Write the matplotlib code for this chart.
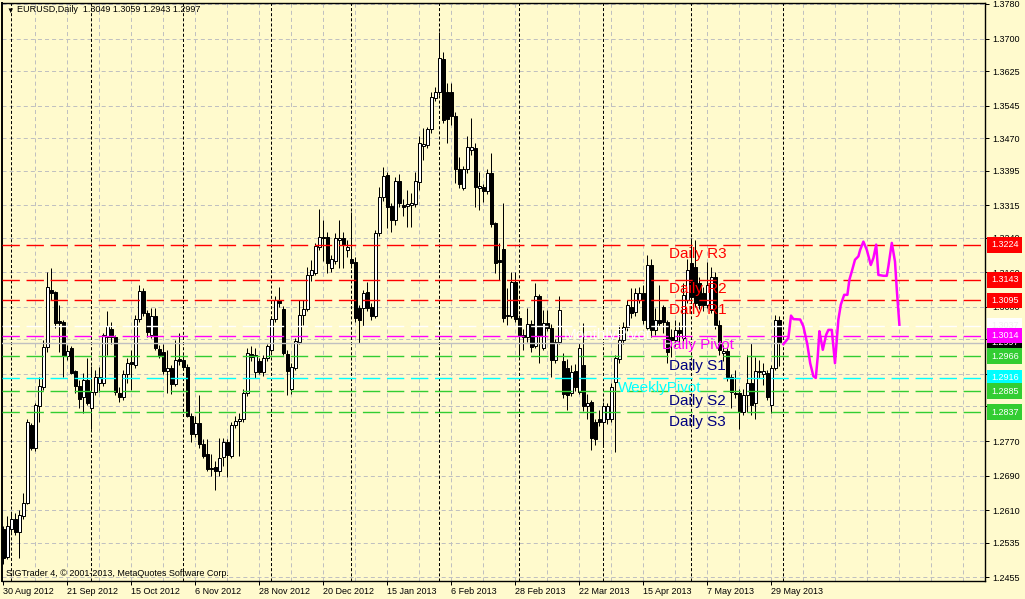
import matplotlib
matplotlib.use("Agg")
import matplotlib.pyplot as plt
from matplotlib.transforms import blended_transform_factory

# ---------------- daily bars, 30 Aug 2012 .. 31 May 2013 ----------------
opens = [
    1.2566, 1.2503, 1.2568, 1.2591, 1.2561, 1.2598, 1.2628, 1.2808, 1.2755, 1.2850,
    1.2896, 1.2988, 1.3120, 1.3115, 1.3048, 1.3046, 1.2967, 1.2986, 1.2931, 1.2898,
    1.2871, 1.2912, 1.2847, 1.2884, 1.2905, 1.2905, 1.3011, 1.3030, 1.3011, 1.2882,
    1.2873, 1.2926, 1.2953, 1.2946, 1.3053, 1.3117, 1.3067, 1.3016, 1.3058, 1.2984,
    1.2975, 1.2931, 1.2940, 1.2903, 1.2960, 1.2958, 1.2942, 1.2829, 1.2787, 1.2813,
    1.2764, 1.2741, 1.2709, 1.2711, 1.2700, 1.2734, 1.2769, 1.2736, 1.2808, 1.2817,
    1.2822, 1.2882, 1.2972, 1.2930, 1.2955, 1.2930, 1.2963, 1.2981, 1.3053, 1.3095,
    1.3076, 1.2972, 1.2891, 1.2940, 1.3000, 1.3062, 1.3076, 1.3154, 1.3159, 1.3219,
    1.3242, 1.3242, 1.3170, 1.3187, 1.3235, 1.3240, 1.3212, 1.3191, 1.3184, 1.3078,
    1.3078, 1.3115, 1.3081, 1.3060, 1.3251, 1.3334, 1.3385, 1.3314, 1.3281, 1.3371,
    1.3316, 1.3314, 1.3316, 1.3318, 1.3369, 1.3452, 1.3455, 1.3491, 1.3563, 1.3577,
    1.3653, 1.3577, 1.3577, 1.3521, 1.3399, 1.3355, 1.3399, 1.3443, 1.3447, 1.3355,
    1.3357, 1.3348, 1.3390, 1.3274, 1.3189, 1.3214, 1.3058, 1.3060, 1.3138, 1.3055,
    1.3016, 1.3011, 1.3041, 1.2990, 1.3106, 1.2986, 1.3044, 1.3032, 1.2958, 1.2999,
    1.2954, 1.2940, 1.2882, 1.2933, 1.2884, 1.2947, 1.2850, 1.2861, 1.2815, 1.2822,
    1.2815, 1.2820, 1.2820, 1.2907, 1.2960, 1.3004, 1.3034, 1.3081, 1.3069, 1.3097,
    1.3113, 1.3032, 1.3177, 1.3027, 1.3051, 1.3081, 1.3046, 1.3011, 1.3004, 1.3027,
    1.3009, 1.3097, 1.3182, 1.3173, 1.3136, 1.3113, 1.3085, 1.3074, 1.3150, 1.3039,
    1.2974, 1.2978, 1.2919, 1.2882, 1.2882, 1.2838, 1.2877, 1.2905, 1.2859, 1.2929,
    1.2926, 1.2928, 1.2854, 1.2940, 1.3049,
]
highs = [
    1.2575, 1.2596, 1.2607, 1.2605, 1.2610, 1.2649, 1.2820, 1.2813, 1.2857, 1.2919,
    1.3004, 1.3160, 1.3170, 1.3117, 1.3085, 1.3051, 1.2993, 1.2990, 1.2935, 1.2912,
    1.2928, 1.2963, 1.2944, 1.2935, 1.2942, 1.3020, 1.3071, 1.3045, 1.3015, 1.2895,
    1.2935, 1.2962, 1.2981, 1.3062, 1.3130, 1.3124, 1.3072, 1.3078, 1.3078, 1.2992,
    1.2995, 1.2981, 1.2945, 1.3004, 1.3020, 1.2970, 1.2948, 1.2835, 1.2827, 1.2877,
    1.2775, 1.2775, 1.2740, 1.2725, 1.2778, 1.2778, 1.2775, 1.2815, 1.2828, 1.2835,
    1.2890, 1.2986, 1.2990, 1.2985, 1.2962, 1.2970, 1.2995, 1.3060, 1.3105, 1.3127,
    1.3082, 1.2980, 1.2950, 1.3008, 1.3097, 1.3097, 1.3173, 1.3189, 1.3228, 1.3307,
    1.3281, 1.3254, 1.3200, 1.3251, 1.3281, 1.3254, 1.3235, 1.3300, 1.3195, 1.3085,
    1.3120, 1.3138, 1.3090, 1.3258, 1.3357, 1.3404, 1.3392, 1.3320, 1.3380, 1.3388,
    1.3330, 1.3351, 1.3344, 1.3392, 1.3475, 1.3494, 1.3496, 1.3577, 1.3588, 1.3715,
    1.3670, 1.3598, 1.3598, 1.3530, 1.3427, 1.3405, 1.3475, 1.3517, 1.3459, 1.3392,
    1.3365, 1.3398, 1.3436, 1.3277, 1.3228, 1.3320, 1.3124, 1.3161, 1.3161, 1.3062,
    1.3030, 1.3078, 1.3050, 1.3136, 1.3110, 1.3074, 1.3074, 1.3040, 1.3005, 1.3106,
    1.2974, 1.2960, 1.2945, 1.2948, 1.2997, 1.3044, 1.2880, 1.2865, 1.2820, 1.2843,
    1.2860, 1.2858, 1.2905, 1.2970, 1.3039, 1.3045, 1.3097, 1.3124, 1.3124, 1.3125,
    1.3130, 1.3200, 1.3190, 1.3078, 1.3131, 1.3085, 1.3050, 1.3030, 1.3051, 1.3045,
    1.3136, 1.3191, 1.3240, 1.3235, 1.3150, 1.3125, 1.3184, 1.3173, 1.3160, 1.3050,
    1.2993, 1.2985, 1.2925, 1.2935, 1.2890, 1.2890, 1.2970, 1.2997, 1.2965, 1.2958,
    1.2951, 1.2935, 1.2945, 1.3062, 1.3059,
]
lows = [
    1.2485, 1.2497, 1.2559, 1.2552, 1.2501, 1.2589, 1.2624, 1.2750, 1.2748, 1.2815,
    1.2889, 1.2977, 1.3097, 1.3032, 1.2977, 1.2919, 1.2958, 1.2924, 1.2882, 1.2847,
    1.2836, 1.2854, 1.2797, 1.2877, 1.2884, 1.2898, 1.2970, 1.2995, 1.2877, 1.2860,
    1.2865, 1.2905, 1.2889, 1.2940, 1.3045, 1.3060, 1.3010, 1.3008, 1.2980, 1.2962,
    1.2925, 1.2882, 1.2880, 1.2898, 1.2945, 1.2935, 1.2825, 1.2767, 1.2780, 1.2755,
    1.2730, 1.2700, 1.2690, 1.2658, 1.2690, 1.2713, 1.2686, 1.2730, 1.2800, 1.2736,
    1.2815, 1.2875, 1.2955, 1.2915, 1.2925, 1.2920, 1.2955, 1.2975, 1.3045, 1.3080,
    1.2970, 1.2877, 1.2880, 1.2935, 1.2995, 1.3039, 1.3070, 1.3140, 1.3154, 1.3212,
    1.3187, 1.3159, 1.3160, 1.3180, 1.3170, 1.3170, 1.3195, 1.3170, 1.3046, 1.2997,
    1.3037, 1.3070, 1.3050, 1.3055, 1.3245, 1.3325, 1.3263, 1.3254, 1.3270, 1.3310,
    1.3290, 1.3265, 1.3265, 1.3312, 1.3351, 1.3420, 1.3448, 1.3482, 1.3555, 1.3570,
    1.3505, 1.3459, 1.3500, 1.3367, 1.3355, 1.3350, 1.3390, 1.3430, 1.3311, 1.3304,
    1.3323, 1.3340, 1.3265, 1.3159, 1.3143, 1.3046, 1.3039, 1.3055, 1.3045, 1.2965,
    1.2981, 1.3000, 1.2977, 1.2985, 1.2951, 1.2980, 1.3025, 1.2919, 1.2950, 1.2995,
    1.2870, 1.2843, 1.2875, 1.2885, 1.2880, 1.2840, 1.2820, 1.2750, 1.2760, 1.2805,
    1.2762, 1.2810, 1.2815, 1.2744, 1.2950, 1.2995, 1.3025, 1.3055, 1.3060, 1.3090,
    1.3040, 1.3025, 1.3010, 1.3015, 1.3035, 1.3020, 1.2950, 1.2965, 1.2990, 1.2995,
    1.3000, 1.3090, 1.3095, 1.3080, 1.3075, 1.3070, 1.3078, 1.3065, 1.3030, 1.2970,
    1.2955, 1.2910, 1.2847, 1.2870, 1.2797, 1.2830, 1.2838, 1.2831, 1.2820, 1.2915,
    1.2900, 1.2865, 1.2836, 1.2935, 1.2943,
]
closes = [
    1.2501, 1.2575, 1.2591, 1.2561, 1.2600, 1.2628, 1.2815, 1.2755, 1.2854, 1.2898,
    1.2988, 1.3127, 1.3113, 1.3044, 1.3044, 1.2967, 1.2979, 1.2928, 1.2898, 1.2868,
    1.2912, 1.2859, 1.2884, 1.2919, 1.2917, 1.3016, 1.3037, 1.3011, 1.2884, 1.2873,
    1.2926, 1.2951, 1.2949, 1.3053, 1.3117, 1.3067, 1.3021, 1.3058, 1.2986, 1.2970,
    1.2931, 1.2940, 1.2903, 1.2958, 1.2956, 1.2942, 1.2829, 1.2787, 1.2813, 1.2764,
    1.2736, 1.2706, 1.2706, 1.2700, 1.2732, 1.2769, 1.2738, 1.2808, 1.2817, 1.2822,
    1.2882, 1.2974, 1.2965, 1.2968, 1.2930, 1.2963, 1.2990, 1.3053, 1.3097, 1.3090,
    1.2974, 1.2933, 1.2942, 1.3002, 1.3062, 1.3076, 1.3154, 1.3166, 1.3221, 1.3242,
    1.3240, 1.3182, 1.3191, 1.3240, 1.3240, 1.3224, 1.3219, 1.3182, 1.3055, 1.3051,
    1.3113, 1.3078, 1.3060, 1.3251, 1.3334, 1.3383, 1.3311, 1.3281, 1.3371, 1.3321,
    1.3311, 1.3318, 1.3321, 1.3371, 1.3459, 1.3457, 1.3491, 1.3565, 1.3577, 1.3655,
    1.3512, 1.3515, 1.3521, 1.3399, 1.3364, 1.3399, 1.3450, 1.3450, 1.3357, 1.3360,
    1.3348, 1.3390, 1.3272, 1.3182, 1.3184, 1.3055, 1.3062, 1.3138, 1.3053, 1.3016,
    1.3011, 1.3041, 1.2988, 1.3106, 1.3016, 1.3044, 1.3032, 1.2958, 1.2999, 1.3074,
    1.2880, 1.2877, 1.2930, 1.2896, 1.2986, 1.2850, 1.2858, 1.2778, 1.2776, 1.2815,
    1.2850, 1.2850, 1.2896, 1.2962, 1.3004, 1.3034, 1.3085, 1.3067, 1.3113, 1.3113,
    1.3051, 1.3177, 1.3027, 1.3051, 1.3044, 1.3046, 1.2977, 1.3004, 1.3027, 1.3020,
    1.3108, 1.3166, 1.3103, 1.3090, 1.3085, 1.3085, 1.3131, 1.3150, 1.3039, 1.2981,
    1.2978, 1.2919, 1.2884, 1.2880, 1.2838, 1.2877, 1.2905, 1.2854, 1.2931, 1.2931,
    1.2933, 1.2873, 1.2940, 1.3051, 1.2997,
]

# forecast line (bar position, price)
forecast_bars = [195.0, 196.25, 196.9, 197.5, 199.2, 200.0, 201.0, 201.7, 202.5, 203.1,
                 203.6, 204.0, 204.4, 204.85, 205.7, 206.25, 207.1, 207.9, 208.35, 208.75,
                 209.35, 210.2, 211.0, 211.5, 212.1, 212.9, 213.75, 214.2, 215.0, 215.85,
                 216.85, 217.5, 218.2, 218.75, 220.0, 220.85, 221.25, 222.1, 222.9, 223.35,
                 224.0]
forecast_prices = [1.2994, 1.3008, 1.3060, 1.3052, 1.3051, 1.3035, 1.2993, 1.2950, 1.2920, 1.2916,
                   1.2966, 1.3024, 1.3004, 1.2981, 1.3016, 1.3027, 1.3027, 1.2950, 1.3004, 1.3051,
                   1.3085, 1.3108, 1.3108, 1.3143, 1.3162, 1.3189, 1.3197, 1.3212, 1.3231, 1.3212,
                   1.3177, 1.3193, 1.3224, 1.3154, 1.3152, 1.3152, 1.3174, 1.3228, 1.3185, 1.3120,
                   1.3039]

# pivot levels
level_names = ["Daily R3", "Daily R2", "Daily R1", "MonthlyPivot", "Daily Pivot",
               "Daily S1", "WeeklyPivot", "Daily S2", "Daily S3"]
level_values = [1.3224, 1.3143, 1.3095, 1.3037, 1.3014, 1.2966, 1.2916, 1.2885, 1.2837]
level_line_colors = ["#FF0000", "#FF0000", "#FF0000", "#FFFFFF", "#FF00FF",
                     "#32CD32", "#00FFFF", "#32CD32", "#32CD32"]
level_text_colors = ["#FF0000", "#FF0000", "#FF0000", "#FFFFFF", "#FF00FF",
                     "#000080", "#00FFFF", "#000080", "#000080"]
level_text_bars = [166.4, 166.4, 166.4, 140.0, 164.7, 166.4, 153.7, 166.4, 166.4]

bid_price = 1.2997

price_ticks = [1.3780, 1.3700, 1.3625, 1.3545, 1.3470, 1.3395, 1.3315, 1.3240, 1.3160,
               1.3080, 1.3005, 1.2925, 1.2850, 1.2770, 1.2690, 1.2610, 1.2535, 1.2455]
date_bars = [0, 16, 32, 48, 64, 80, 96, 112, 128, 144, 160, 176, 192]
date_labels = ["30 Aug 2012", "21 Sep 2012", "15 Oct 2012", "6 Nov 2012", "28 Nov 2012",
               "20 Dec 2012", "15 Jan 2013", "6 Feb 2013", "28 Feb 2013", "22 Mar 2013",
               "15 Apr 2013", "7 May 2013", "29 May 2013"]
month_starts = [2, 22, 45, 67, 87, 109, 129, 150, 172, 195]

# ---------------- drawing ----------------
BG = "#FFFACD"
PX = 0.72  # one pixel in points at dpi 100
plt.rcParams["font.family"] = ["Liberation Sans", "DejaVu Sans"]
plt.rcParams["lines.scale_dashes"] = False

fig = plt.figure(figsize=(10.25, 5.99), dpi=100, facecolor=BG)
ax = fig.add_axes([2 / 1025, 1 - 581 / 599, 983 / 1025, 578 / 599])
ax.set_facecolor(BG)
ax.set_xlim(-0.33, 245.4)
ax.set_ylim(1.24468, 1.37823)

# grid
for b in range(8, 246, 8):
    ax.axvline(b, color="#C0C0C0", lw=PX, dashes=(2.9, 2.2), zorder=0.5)
for v in price_ticks:
    ax.axhline(v, color="#C0C0C0", lw=PX, dashes=(2.9, 2.2), zorder=0.5)
for b in month_starts:
    ax.axvline(b, color="black", lw=PX, dashes=(2.2, 1.5), zorder=1)

# candles
xs = list(range(len(closes)))
ax.vlines(xs, lows, highs, color="black", lw=PX, zorder=2)
bottoms = [min(o, c) for o, c in zip(opens, closes)]
heights = [abs(c - o) for o, c in zip(opens, closes)]
faces = ["white" if c >= o else "black" for o, c in zip(opens, closes)]
ax.bar(xs, heights, bottom=bottoms, width=0.6, color=faces,
       edgecolor="black", linewidth=PX, zorder=3)

# pivot lines and their names
ax.axhline(bid_price, color="#C0C0C0", lw=1.0, zorder=4)
for name, v, lc, tc, tb in zip(level_names, level_values, level_line_colors,
                               level_text_colors, level_text_bars):
    ax.axhline(v, color=lc, lw=1.0, dashes=(12.5, 4.8), zorder=4)
    ax.annotate(name, xy=(tb, v), xytext=(0, -2), textcoords="offset points",
                fontsize=11, color=tc, ha="left", va="top", zorder=5)

ax.plot(forecast_bars, forecast_prices, color="#FF00FF", lw=1.8, zorder=6)

# price boxes on the right
trans = blended_transform_factory(ax.transAxes, ax.transData)
box_rows = [(v, c, "#F0F0F0" if c == "#FFFFFF" else "white", 7)
            for v, c in zip(level_values, level_line_colors)]
box_rows.append((bid_price, "black", "white", 6.5))
for v, fc, tc, z in box_rows:
    ax.annotate(f"{v:.4f}", xy=(1, v), xycoords=trans, xytext=(4.2, 0),
                textcoords="offset points", fontsize=6.5, color=tc,
                ha="left", va="center", annotation_clip=False, zorder=z,
                bbox=dict(boxstyle="square,pad=0.38", fc=fc, ec="none"))

# axes
ax.yaxis.tick_right()
ax.set_yticks(price_ticks)
ax.set_yticklabels([f"{v:.4f}" for v in price_ticks])
ax.set_xticks(date_bars)
ax.set_xticklabels(date_labels, ha="left")
ax.tick_params(axis="y", length=3, width=PX, pad=2.5, labelsize=6.5)
ax.tick_params(axis="x", length=3, width=PX, pad=1.5, labelsize=6.5)
for s in ax.spines.values():
    s.set_color("black")
    s.set_linewidth(1.0)
ax.spines["left"].set_linewidth(1.4)

fig.text(6 / 1025, 1 - 11 / 599, "\u25bc", fontsize=5.5, va="center")
fig.text(17 / 1025, 1 - 10 / 599, "EURUSD,Daily  1.3049 1.3059 1.2943 1.2997",
         fontsize=6.5, va="center")
fig.text(6 / 1025, 1 - 573 / 599,
         "SIGTrader 4, \u00a9 2001-2013, MetaQuotes Software Corp.",
         fontsize=6.5, va="center")

fig.savefig("out.png", dpi=100, facecolor=BG)
